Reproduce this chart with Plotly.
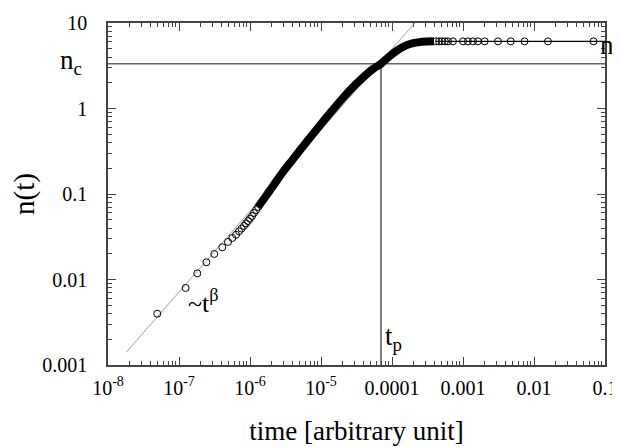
import math
import plotly.graph_objects as go

# ---- data ----
# sparse early points (open circles)
t_early = [4.94e-8, 1.24e-7, 1.81e-7, 2.43e-7, 3.14e-7, 4.07e-7, 4.9e-7, 5.64e-7,
           6.36e-7, 7.0e-7, 7.59e-7, 8.22e-7, 8.79e-7, 9.38e-7, 1.0e-6, 1.07e-6,
           1.14e-6, 1.22e-6, 1.30e-6]
n_early = [0.00398, 0.00796, 0.0118, 0.0159, 0.0199, 0.0238, 0.0275, 0.0306,
           0.0334, 0.0366, 0.0394, 0.0423, 0.0452, 0.0483, 0.0516, 0.0553,
           0.060, 0.065, 0.0705]

# dense band of overlapping circles (centre line)
t_band = [1.30e-6, 1.68e-6, 2.11e-6, 2.92e-6, 4.04e-6, 5.57e-6, 7.71e-6, 1.07e-5,
          1.48e-5, 2.04e-5, 2.82e-5, 3.91e-5, 5.40e-5, 7.0e-5, 8.79e-5, 1.10e-4,
          1.38e-4, 1.79e-4, 2.32e-4, 3.01e-4, 3.91e-4]
n_band = [0.0705, 0.0948, 0.124, 0.181, 0.256, 0.360, 0.503, 0.705,
          0.973, 1.33, 1.78, 2.31, 2.90, 3.34, 3.95, 4.58,
          5.17, 5.68, 5.94, 6.08, 6.11]

# plateau points
t_plat = [4.17e-4, 4.60e-4, 5.06e-4, 5.57e-4, 6.15e-4, 7.22e-4, 1.0e-3, 1.17e-3,
          1.38e-3, 1.62e-3, 2.02e-3, 3.11e-3, 4.70e-3, 7.35e-3, 0.0157, 0.0689]
n_plat = [6.1] * len(t_plat)

# power law guide ~t^beta
t_fit = [1.81e-8, 2.09e-4]
n_fit = [1.41e-3, 10.0]

# characteristic values
n_c = 3.34
t_p = 7.0e-5
n_f = 6.1
t_range = [1e-8, 0.1]
n_range = [0.001, 10]

x_tickvals = [1e-8, 1e-7, 1e-6, 1e-5, 1e-4, 1e-3, 1e-2, 1e-1]
x_ticktext = ["10<sup>-8</sup>", "10<sup>-7</sup>", "10<sup>-6</sup>", "10<sup>-5</sup>",
              "0.0001", "0.001", "0.01", "0.1"]
y_tickvals = [0.001, 0.01, 0.1, 1, 10]
y_ticktext = ["0.001", "0.01", "0.1", "1", "10"]

FONT = "Liberation Serif, Times New Roman, serif"
AX = "#444444"

fig = go.Figure()

# n_c horizontal line
fig.add_trace(go.Scatter(x=t_range, y=[n_c, n_c], mode="lines",
                         line=dict(color="#666666", width=1.5), hoverinfo="skip"))
# t_p vertical line
fig.add_trace(go.Scatter(x=[t_p, t_p], y=[n_range[0], n_c], mode="lines",
                         line=dict(color="#555555", width=1.5), hoverinfo="skip"))
# power law guide
fig.add_trace(go.Scatter(x=t_fit, y=n_fit, mode="lines",
                         line=dict(color="#888888", width=0.8), hoverinfo="skip"))
# n_f line
fig.add_trace(go.Scatter(x=[t_plat[0], t_range[1]], y=[n_f, n_f], mode="lines",
                         line=dict(color="black", width=1.2), hoverinfo="skip"))
# dense band
fig.add_trace(go.Scatter(x=t_band, y=n_band, mode="lines",
                         line=dict(color="black", width=8, shape="spline"),
                         hoverinfo="skip"))
marker = dict(symbol="circle-open", size=7, color="black", line=dict(width=1, color="black"))
fig.add_trace(go.Scatter(x=t_early, y=n_early, mode="markers", marker=marker))
fig.add_trace(go.Scatter(x=t_plat, y=n_plat, mode="markers", marker=marker))

ann_font = dict(family=FONT, size=27, color="black")
fig.add_annotation(x=-0.075, y=math.log10(n_c), xref="paper", yref="y",
                   text="n<sub>c</sub>", showarrow=False, font=ann_font,
                   xanchor="center", yanchor="middle", yshift=2)
fig.add_annotation(x=1.0, y=math.log10(n_f), xref="paper", yref="y",
                   text="n<sub>f</sub>", showarrow=False, font=ann_font,
                   xanchor="left", yanchor="middle", xshift=-7, yshift=-6)
fig.add_annotation(x=math.log10(t_p), y=0.08, xref="x", yref="paper",
                   text="t<sub>p</sub>", showarrow=False, font=ann_font,
                   xanchor="left", yanchor="middle", xshift=2)
fig.add_annotation(x=-6.65, y=0.185, xref="x", yref="paper",
                   text="~t<sup>β</sup>", showarrow=False,
                   font=dict(family=FONT, size=26, color="black"),
                   xanchor="center", yanchor="middle")

axis_common = dict(showline=True, linecolor=AX, linewidth=1.5, mirror="ticks",
                   ticks="inside", ticklen=8, tickcolor=AX, tickwidth=1,
                   showgrid=False, zeroline=False, automargin=False,
                   tickfont=dict(family=FONT, size=20, color="black"))

x_minor = [m * 10 ** e for e in range(-8, -1) for m in range(2, 10)]
y_minor = [m * 10 ** e for e in range(-3, 1) for m in range(2, 10)]

fig.update_xaxes(type="log", range=[-8, -1], tickmode="array", tickvals=x_tickvals,
                 ticktext=x_ticktext, ticklabelstandoff=4,
                 minor=dict(ticks="inside", ticklen=4, tickcolor=AX, tickmode="array",
                            tickvals=x_minor, showgrid=False),
                 title=dict(text="time [arbitrary unit]", standoff=23,
                            font=dict(family=FONT, size=27, color="black")),
                 **axis_common)
fig.update_yaxes(type="log", range=[-3, 1], tickmode="array", tickvals=y_tickvals,
                 ticktext=y_ticktext, ticklabelstandoff=15,
                 minor=dict(ticks="inside", ticklen=4, tickcolor=AX, tickmode="array",
                            tickvals=y_minor, showgrid=False),
                 title=dict(text="n(t)", standoff=8,
                            font=dict(family=FONT, size=29, color="black")),
                 **axis_common)

fig.update_layout(width=620, height=447, plot_bgcolor="white", paper_bgcolor="white",
                  margin=dict(l=100, r=23, t=15, b=90), showlegend=False,
                  font=dict(family=FONT))

fig.write_html("out.html")
